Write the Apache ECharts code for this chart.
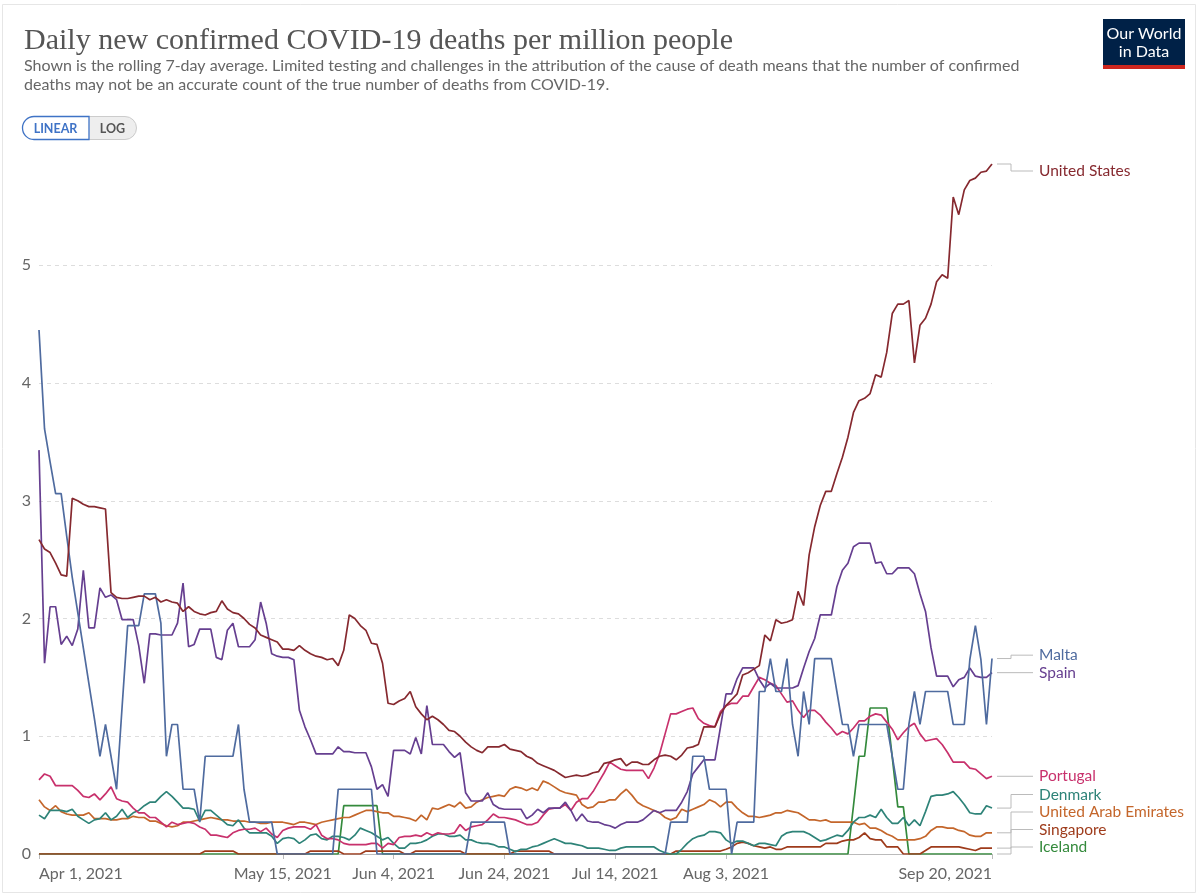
<!DOCTYPE html>
<html>
<head>
<meta charset="utf-8">
<script src="https://cdn.jsdelivr.net/npm/echarts@6/dist/echarts.min.js"></script>
<style>
  html, body { margin: 0; padding: 0; background: #fff; }
  #chart { width: 1200px; height: 894px; }
</style>
</head>
<body>
<div id="chart"></div>
<script>
// daily values, Apr 1 2021 .. Sep 20 2021 (173 days)
const unitedStates = [
  2.67,2.59,2.56,2.47,2.37,2.36,3.02,3.00,2.97,2.95,
  2.95,2.94,2.93,2.22,2.18,2.17,2.17,2.18,2.19,2.19,
  2.16,2.18,2.14,2.16,2.14,2.13,2.06,2.10,2.06,2.04,
  2.03,2.05,2.06,2.15,2.08,2.05,2.04,2.00,1.95,1.92,
  1.86,1.84,1.82,1.80,1.74,1.74,1.73,1.77,1.73,1.70,
  1.68,1.67,1.65,1.66,1.60,1.73,2.03,2.00,1.94,1.90,
  1.79,1.78,1.62,1.28,1.27,1.30,1.32,1.38,1.25,1.19,
  1.14,1.17,1.14,1.10,1.05,1.04,1.00,0.95,0.91,0.88,
  0.86,0.91,0.91,0.91,0.93,0.89,0.88,0.87,0.83,0.81,
  0.77,0.75,0.73,0.71,0.68,0.65,0.66,0.67,0.66,0.67,
  0.69,0.70,0.77,0.78,0.80,0.81,0.75,0.78,0.78,0.76,
  0.76,0.80,0.83,0.84,0.83,0.80,0.84,0.90,0.91,0.93,
  1.08,1.08,1.08,1.19,1.26,1.31,1.36,1.52,1.54,1.57,
  1.60,1.86,1.81,1.99,1.96,1.97,1.99,2.23,2.11,2.54,
  2.78,2.96,3.08,3.08,3.23,3.37,3.54,3.75,3.85,3.87,
  3.91,4.07,4.05,4.26,4.59,4.67,4.67,4.70,4.17,4.49,
  4.55,4.67,4.86,4.92,4.89,5.58,5.43,5.64,5.72,5.74,
  5.79,5.80,5.86
];
const malta = [
  4.45,3.61,3.33,3.06,3.06,2.70,2.35,2.05,1.75,1.45,
  1.15,0.83,1.10,0.83,0.55,1.25,1.94,1.94,1.94,2.21,
  2.21,2.21,1.96,0.83,1.10,1.10,0.55,0.55,0.55,0.27,
  0.83,0.83,0.83,0.83,0.83,0.83,1.10,0.55,0.27,0.27,
  0.27,0.27,0.27,0,0,0,0,0,0,0,
  0,0,0,0,0.55,0.55,0.55,0.55,0.55,0.55,
  0.55,0,0,0,0,0,0,0,0,0,
  0,0,0,0,0,0,0,0,0.27,0.27,
  0.27,0.27,0.27,0.27,0.27,0,0,0,0,0,
  0,0,0,0,0,0,0,0,0,0,
  0,0,0,0,0,0,0,0,0,0,
  0,0,0,0,0.27,0.27,0.27,0.27,0.83,0.83,
  0.83,0.55,0.55,0.55,0.55,0,0.27,0.27,0.27,0.27,
  1.38,1.38,1.66,1.38,1.38,1.66,1.10,0.83,1.38,1.10,
  1.66,1.66,1.66,1.66,1.38,1.10,1.10,0.83,1.10,1.10,
  1.10,1.10,1.10,1.10,0.83,0.55,0.55,1.10,1.38,1.10,
  1.38,1.38,1.38,1.38,1.38,1.10,1.10,1.10,1.65,1.94,
  1.65,1.10,1.66
];
const spain = [
  3.43,1.62,2.10,2.10,1.78,1.85,1.77,1.91,2.41,1.92,
  1.92,2.26,2.18,2.20,2.16,1.99,1.99,1.99,1.77,1.45,
  1.87,1.87,1.86,1.86,1.86,1.96,2.30,1.76,1.78,1.91,
  1.91,1.91,1.67,1.65,1.90,1.96,1.76,1.76,1.76,1.82,
  2.14,1.96,1.70,1.68,1.67,1.67,1.65,1.22,1.08,0.97,
  0.85,0.85,0.85,0.85,0.91,0.87,0.87,0.86,0.86,0.86,
  0.74,0.55,0.59,0.49,0.88,0.88,0.88,0.85,0.99,0.85,
  1.26,0.93,0.93,0.93,0.87,0.82,0.86,0.52,0.45,0.45,
  0.45,0.52,0.42,0.39,0.38,0.38,0.38,0.38,0.30,0.33,
  0.38,0.35,0.39,0.39,0.39,0.44,0.37,0.28,0.34,0.28,
  0.27,0.27,0.25,0.24,0.22,0.25,0.27,0.27,0.27,0.29,
  0.33,0.37,0.35,0.37,0.37,0.37,0.44,0.53,0.68,0.74,
  0.80,0.80,0.80,1.08,1.36,1.36,1.49,1.58,1.58,1.58,
  1.48,1.41,1.45,1.41,1.41,1.41,1.41,1.43,1.58,1.72,
  1.83,2.03,2.03,2.03,2.27,2.41,2.47,2.61,2.64,2.64,
  2.64,2.47,2.48,2.38,2.38,2.43,2.43,2.43,2.38,2.21,
  2.06,1.75,1.51,1.51,1.51,1.42,1.48,1.50,1.58,1.51,
  1.50,1.50,1.54
];
const portugal = [
  0.63,0.68,0.66,0.58,0.58,0.58,0.58,0.54,0.49,0.48,
  0.51,0.46,0.51,0.57,0.47,0.45,0.44,0.39,0.35,0.35,
  0.31,0.31,0.27,0.23,0.27,0.25,0.26,0.27,0.26,0.23,
  0.21,0.16,0.16,0.15,0.14,0.18,0.20,0.21,0.21,0.22,
  0.19,0.22,0.17,0.14,0.20,0.22,0.23,0.23,0.23,0.21,
  0.25,0.16,0.13,0.13,0.12,0.09,0.08,0.08,0.08,0.08,
  0.09,0.09,0.05,0.09,0.08,0.14,0.15,0.15,0.16,0.15,
  0.18,0.16,0.18,0.17,0.17,0.18,0.25,0.20,0.23,0.24,
  0.25,0.29,0.34,0.31,0.31,0.30,0.29,0.27,0.25,0.25,
  0.27,0.33,0.38,0.39,0.39,0.42,0.37,0.44,0.47,0.47,
  0.53,0.61,0.69,0.78,0.75,0.72,0.71,0.71,0.71,0.71,
  0.64,0.73,0.85,1.02,1.19,1.19,1.21,1.23,1.24,1.15,
  1.11,1.09,1.08,1.21,1.26,1.28,1.28,1.34,1.34,1.42,
  1.50,1.48,1.45,1.43,1.36,1.29,1.30,1.22,1.16,1.22,
  1.22,1.18,1.12,1.07,1.01,1.04,1.02,1.07,1.13,1.13,
  1.17,1.19,1.18,1.12,1.06,0.97,1.03,1.08,1.11,1.02,
  0.96,0.97,0.98,0.93,0.86,0.78,0.78,0.78,0.73,0.72,
  0.68,0.64,0.66
];
const denmark = [
  0.33,0.30,0.37,0.37,0.37,0.36,0.38,0.32,0.29,0.26,
  0.29,0.30,0.35,0.29,0.32,0.38,0.31,0.35,0.37,0.41,
  0.44,0.44,0.49,0.53,0.49,0.44,0.39,0.39,0.38,0.28,
  0.37,0.37,0.33,0.29,0.25,0.24,0.29,0.22,0.18,0.18,
  0.18,0.18,0.15,0.09,0.13,0.14,0.13,0.09,0.12,0.16,
  0.17,0.13,0.12,0.15,0.15,0.14,0.12,0.16,0.22,0.20,
  0.18,0.15,0.12,0.14,0.09,0.05,0.05,0.09,0.09,0.10,
  0.12,0.15,0.17,0.17,0.15,0.15,0.16,0.12,0.12,0.10,
  0.09,0.09,0.08,0.06,0.06,0.04,0.02,0.04,0.04,0.06,
  0.07,0.09,0.11,0.13,0.11,0.09,0.09,0.08,0.07,0.05,
  0.05,0.05,0.04,0.03,0.03,0.05,0.06,0.06,0.06,0.06,
  0.06,0.06,0.03,0.01,0,0,0.04,0.09,0.13,0.15,
  0.16,0.19,0.19,0.18,0.12,0.09,0.11,0.11,0.09,0.07,
  0.09,0.09,0.08,0.07,0.15,0.18,0.19,0.19,0.19,0.17,
  0.14,0.11,0.12,0.14,0.16,0.15,0.20,0.27,0.31,0.31,
  0.33,0.31,0.38,0.31,0.26,0.26,0.31,0.24,0.29,0.24,
  0.36,0.49,0.50,0.50,0.51,0.53,0.48,0.42,0.35,0.34,
  0.34,0.41,0.39
];
const uae = [
  0.46,0.40,0.37,0.41,0.36,0.34,0.33,0.33,0.33,0.35,
  0.30,0.30,0.30,0.29,0.29,0.30,0.30,0.32,0.31,0.31,
  0.28,0.28,0.26,0.24,0.23,0.24,0.27,0.27,0.28,0.29,
  0.30,0.31,0.30,0.29,0.29,0.28,0.28,0.28,0.27,0.27,
  0.26,0.26,0.27,0.27,0.27,0.26,0.25,0.27,0.27,0.26,
  0.25,0.27,0.28,0.29,0.30,0.31,0.31,0.33,0.35,0.37,
  0.37,0.36,0.35,0.35,0.32,0.32,0.31,0.30,0.28,0.33,
  0.29,0.39,0.38,0.40,0.42,0.40,0.44,0.39,0.40,0.44,
  0.46,0.48,0.49,0.50,0.49,0.55,0.57,0.56,0.54,0.56,
  0.54,0.62,0.60,0.57,0.54,0.52,0.51,0.50,0.42,0.39,
  0.40,0.44,0.44,0.46,0.46,0.51,0.55,0.50,0.44,0.41,
  0.39,0.37,0.35,0.31,0.29,0.31,0.38,0.36,0.38,0.40,
  0.42,0.46,0.44,0.40,0.44,0.44,0.39,0.35,0.32,0.32,
  0.31,0.32,0.33,0.35,0.35,0.37,0.36,0.35,0.32,0.29,
  0.29,0.28,0.29,0.27,0.27,0.27,0.27,0.27,0.25,0.26,
  0.22,0.22,0.20,0.17,0.15,0.12,0.12,0.12,0.12,0.13,
  0.15,0.20,0.23,0.23,0.22,0.22,0.20,0.19,0.16,0.15,
  0.15,0.18,0.18
];
const singapore = [
  0,0,0,0,0,0,0,0,0,0,
  0,0,0,0,0,0,0,0,0,0,
  0,0,0,0,0,0,0,0,0,0,
  0.025,0.025,0.025,0.025,0.025,0.025,0,0,0,0,
  0,0,0,0,0,0,0,0,0,0.025,
  0.025,0.025,0.025,0.025,0.025,0,0,0,0,0.025,
  0.025,0.025,0.025,0.025,0.025,0.025,0,0,0.025,0.025,
  0.025,0.025,0.025,0.025,0.025,0.025,0.025,0,0,0,
  0,0,0,0,0,0,0.025,0.025,0.025,0.025,
  0.025,0.025,0.025,0,0,0,0,0,0,0,
  0,0,0,0,0,0,0,0,0,0,
  0,0,0,0,0,0.025,0.025,0.025,0.025,0.025,
  0.025,0.025,0.025,0.025,0.04,0.06,0.09,0.10,0.09,0.07,
  0.06,0.05,0.06,0.04,0.04,0.06,0.06,0.06,0.06,0.06,
  0.06,0.06,0.09,0.09,0.09,0.11,0.12,0.12,0.14,0.18,
  0.13,0.12,0.12,0.06,0.06,0.06,0,0,0,0,
  0.03,0.06,0.06,0.06,0.06,0.06,0.06,0.05,0.04,0.03,
  0.05,0.05,0.05
];
const iceland = [
  0,0,0,0,0,0,0,0,0,0,
  0,0,0,0,0,0,0,0,0,0,
  0,0,0,0,0,0,0,0,0,0,
  0,0,0,0,0,0,0,0,0,0,
  0,0,0,0,0,0,0,0,0,0,
  0,0,0,0,0,0.41,0.41,0.41,0.41,0.41,
  0.41,0.41,0,0,0,0,0,0,0,0,
  0,0,0,0,0,0,0,0,0,0,
  0,0,0,0,0,0,0,0,0,0,
  0,0,0,0,0,0,0,0,0,0,
  0,0,0,0,0,0,0,0,0,0,
  0,0,0,0,0,0,0,0,0,0,
  0,0,0,0,0,0,0,0,0,0,
  0,0,0,0,0,0,0,0,0,0,
  0,0,0,0,0,0,0,0.41,0.83,0.83,
  1.24,1.24,1.24,1.24,0.82,0.40,0.40,0,0,0,
  0,0,0,0,0,0,0,0,0,0,
  0,0,0
];

const countries = ["United States", "Malta", "Spain", "Portugal", "Denmark",
  "United Arab Emirates", "Singapore", "Iceland"];
const seriesValues = [unitedStates, malta, spain, portugal, denmark, uae, singapore, iceland];
const colors = ["#86292f", "#4f6b9f", "#663f90", "#c8316c", "#2e8378", "#c4662b", "#9e3b1b", "#348a3c"];

const tickLabels = ["Apr 1, 2021", "May 15, 2021", "Jun 4, 2021", "Jun 24, 2021",
  "Jul 14, 2021", "Aug 3, 2021", "Sep 20, 2021"];

// category labels for every day
const monthNames = ["Jan","Feb","Mar","Apr","May","Jun","Jul","Aug","Sep","Oct","Nov","Dec"];
let days = [];
for (let i = 0; i < unitedStates.length; i++) {
  let d = new Date(Date.UTC(2021, 3, 1 + i));
  days.push(monthNames[d.getUTCMonth()] + " " + d.getUTCDate() + ", " + d.getUTCFullYear());
}
const categoryData = days.map((label, i) => {
  if (i === 0) return { value: label, textStyle: { align: "left" } };
  if (i === days.length - 1) return { value: label, textStyle: { align: "right" } };
  return label;
});
const showTick = (index, value) => tickLabels.indexOf(value) >= 0;

const GRID = { left: 39, right: 208, top: 164, bottom: 40 };

let chart = echarts.init(document.getElementById("chart"));

chart.setOption({
  animation: false,
  backgroundColor: "#ffffff",
  title: {
    text: "Daily new confirmed COVID-19 deaths per million people",
    subtext: "Shown is the rolling 7-day average. Limited testing and challenges in the attribution of the cause of death means that the number of confirmed\ndeaths may not be an accurate count of the true number of deaths from COVID-19.",
    left: 19,
    top: 21,
    itemGap: 0,
    textStyle: {
      fontFamily: "Liberation Serif",
      fontSize: 30,
      fontWeight: "normal",
      color: "#555555",
    },
    subtextStyle: {
      fontFamily: "Lato",
      fontSize: 16,
      lineHeight: 19,
      color: "#666666",
    },
  },
  grid: GRID,
  xAxis: {
    type: "category",
    boundaryGap: false,
    data: categoryData,
    axisLine: { lineStyle: { color: "#bbbbbb" } },
    axisTick: { show: true, interval: showTick, length: 5, lineStyle: { color: "#bbbbbb" } },
    axisLabel: {
      interval: showTick,
      fontFamily: "Lato",
      fontSize: 16,
      color: "#666666",
      margin: 12,
    },
    splitLine: { show: false },
  },
  yAxis: {
    type: "value",
    min: 0,
    max: (v) => v.max,
    interval: 1,
    axisLine: { show: false },
    axisTick: { show: false },
    axisLabel: {
      fontFamily: "Lato",
      fontSize: 16,
      color: "#666666",
      margin: 8,
      showMaxLabel: false,
    },
    splitLine: {
      showMaxLine: false,
      lineStyle: { color: "#dddddd", type: [4, 4], width: 1 },
    },
  },
  series: countries.map((name, i) => ({
    name: name,
    type: "line",
    data: seriesValues[i],
    symbol: "none",
    z: 10 - i,
    lineStyle: { width: 1.7, color: colors[i] },
    itemStyle: { color: colors[i] },
  })),
});

// end labels with elbow connectors, placed from the series' last values
function endLabels() {
  const last = unitedStates.length - 1;
  let items = countries.map((name, i) => {
    let p = chart.convertToPixel({ gridIndex: 0 }, [last, seriesValues[i][last]]);
    return { name: name, color: colors[i], x: p[0], y: p[1], ly: p[1] };
  });
  // push labels up from the bottom so they don't overlap
  items.sort((a, b) => b.y - a.y);
  const gap = 17.5;
  const bottomLimit = 894 - GRID.bottom - 7;
  let prev = null;
  items.forEach((it) => {
    let ly = Math.min(it.y, bottomLimit);
    if (prev !== null) ly = Math.min(ly, prev - gap);
    ly = Math.max(ly, GRID.top + 7);
    it.ly = ly;
    prev = ly;
  });
  let elements = [];
  items.forEach((it) => {
    const x0 = it.x + 5;
    const xm = x0 + 14;
    const x2 = x0 + 36;
    elements.push({
      type: "polyline",
      silent: true,
      shape: { points: [[x0, it.y], [xm, it.y], [xm, it.ly], [x2, it.ly]] },
      style: { stroke: "#bbbbbb", lineWidth: 1, fill: null },
    });
    elements.push({
      type: "text",
      silent: true,
      x: x2 + 6,
      y: it.ly,
      style: {
        text: it.name,
        fill: it.color,
        font: "15.5px Lato",
        verticalAlign: "middle",
      },
    });
  });
  return elements;
}

let graphics = [
  // frame
  {
    type: "rect",
    silent: true,
    shape: { x: 2.5, y: 4.5, width: 1193, height: 888 },
    style: { stroke: "#e6e6e6", fill: null, lineWidth: 1 },
  },
  // LINEAR / LOG toggle
  {
    type: "rect",
    silent: true,
    shape: { x: 22.5, y: 116.5, width: 114, height: 23, r: 11.5 },
    style: { stroke: "#cccccc", fill: "#eeeeee", lineWidth: 1 },
  },
  {
    type: "rect",
    silent: true,
    shape: { x: 22.5, y: 116.5, width: 66.5, height: 23, r: [11.5, 0, 0, 11.5] },
    style: { stroke: "#3f73c6", fill: "#ffffff", lineWidth: 1.3 },
  },
  {
    type: "text",
    silent: true,
    x: 55.5,
    y: 128.5,
    style: { text: "LINEAR", fill: "#3f73c6", font: "bold 12.5px Lato", align: "center", verticalAlign: "middle" },
  },
  {
    type: "text",
    silent: true,
    x: 112.5,
    y: 128.5,
    style: { text: "LOG", fill: "#555555", font: "bold 12.5px Lato", align: "center", verticalAlign: "middle" },
  },
  // Our World in Data logo
  {
    type: "rect",
    silent: true,
    shape: { x: 1103, y: 19, width: 82, height: 49 },
    style: { fill: "#002147" },
  },
  {
    type: "rect",
    silent: true,
    shape: { x: 1103, y: 65, width: 82, height: 4 },
    style: { fill: "#ce261e" },
  },
  {
    type: "text",
    silent: true,
    x: 1144,
    y: 34,
    style: { text: "Our World", fill: "#ffffff", font: "16px Lato", align: "center", verticalAlign: "middle" },
  },
  {
    type: "text",
    silent: true,
    x: 1144,
    y: 52,
    style: { text: "in Data", fill: "#ffffff", font: "16px Lato", align: "center", verticalAlign: "middle" },
  },
];

chart.setOption({ graphic: graphics.concat(endLabels()) });
</script>
</body>
</html>
